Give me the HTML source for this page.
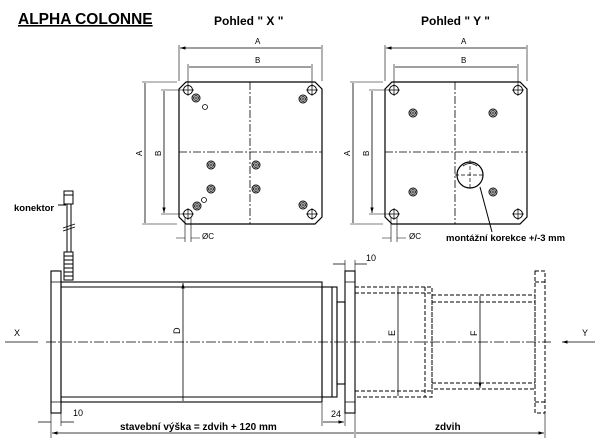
<!DOCTYPE html>
<html><head><meta charset="utf-8"><style>
html,body{margin:0;padding:0;background:#fff;width:600px;height:445px;overflow:hidden}
svg{display:block}
text{font-family:"Liberation Sans",sans-serif;fill:#000}
</style></head><body>
<svg width="600" height="445" viewBox="0 0 600 445" xmlns="http://www.w3.org/2000/svg">
<defs>
<marker id="ar" viewBox="0 0 10 10" refX="10" refY="5" markerWidth="7" markerHeight="7" orient="auto-start-reverse"><path d="M0,2 L10,5 L0,8 z" fill="#000"/></marker>
<g id="hole"><circle r="4.5" fill="none" stroke="#000" stroke-width="1"/><path d="M-6,0H6M0,-6V6" stroke="#000" stroke-width="0.7"/></g>
<g id="scr"><circle r="4" fill="none" stroke="#000" stroke-width="1"/><circle r="2.5" fill="none" stroke="#000" stroke-width="0.8"/><path d="M-2,0H2M0,-2V2" stroke="#000" stroke-width="0.7"/></g>
</defs>
<text x="18" y="24" font-size="15.5" font-weight="bold" text-decoration="underline">ALPHA COLONNE</text>
<text x="214" y="25" font-size="12" font-weight="bold">Pohled " X "</text>
<text x="421" y="25" font-size="12" font-weight="bold">Pohled " Y "</text>

<g stroke="#000" fill="none" stroke-width="1">
<path d="M186,82 H315 L322,89 V217 L315,224 H186 L179,217 V89 Z" stroke-width="1.2"/>
<path d="M250,82V224M179,152H322" stroke-dasharray="8,2,2,2" stroke-width="0.8"/>
<path d="M179,81V45M322,81V45M188,86V64M312,86V64M177,82H142M177,224H142M184,90H161M184,214H161" stroke-width="0.6"/>
<path d="M180,48H321M189,67H311M145,83V223M164,91V213" marker-start="url(#ar)" marker-end="url(#ar)" stroke-width="0.8"/>
<path d="M185,218V242M191,218V242M176,238H185M200,238H191" stroke-width="0.6"/>
<path d="M392,82 H520 L527,89 V217 L520,224 H392 L385,217 V89 Z" stroke-width="1.2"/>
<path d="M455,82V224M385,152H527" stroke-dasharray="8,2,2,2" stroke-width="0.8"/>
<path d="M385,81V45M527,81V45M394,86V64M518,86V64M383,82H350M383,224H350M390,90H369M390,214H369" stroke-width="0.6"/>
<path d="M386,48H526M395,67H517M353,83V223M372,91V213" marker-start="url(#ar)" marker-end="url(#ar)" stroke-width="0.8"/>
<path d="M391,218V242M397,218V242M382,238H391M406,238H397" stroke-width="0.6"/>
<circle cx="470" cy="175" r="13" stroke-width="1.2"/>
<path d="M455,175H485M470,160V190" stroke-dasharray="4,2" stroke-width="0.7"/>
<path d="M463,166 Q470,161 477,166" stroke-width="0.8"/>
<path d="M480,187 L492,232" stroke-width="1"/>
</g>
<g>
<use href="#hole" x="188" y="90"/><use href="#hole" x="312" y="90"/><use href="#hole" x="188" y="214"/><use href="#hole" x="312" y="214"/>
<use href="#scr" x="196" y="98"/><use href="#scr" x="303" y="99"/><use href="#scr" x="197" y="206"/><use href="#scr" x="303" y="205"/>
<use href="#scr" x="211" y="165"/><use href="#scr" x="256" y="165"/><use href="#scr" x="211" y="189"/><use href="#scr" x="256" y="189"/>
<circle cx="205" cy="107" r="2.5" fill="none" stroke="#000" stroke-width="0.8"/>
<circle cx="204" cy="200" r="2.5" fill="none" stroke="#000" stroke-width="0.8"/>
<use href="#hole" x="394" y="90"/><use href="#hole" x="518" y="90"/><use href="#hole" x="394" y="214"/><use href="#hole" x="518" y="214"/>
<use href="#scr" x="413" y="113"/><use href="#scr" x="493" y="113"/><use href="#scr" x="413" y="192"/><use href="#scr" x="493" y="192"/>
</g>
<g font-size="8">
<text x="255" y="44">A</text><text x="255" y="63">B</text>
<text x="461" y="44">A</text><text x="461" y="63">B</text>
<text transform="translate(142,156) rotate(-90)">A</text>
<text transform="translate(161,156) rotate(-90)">B</text>
<text transform="translate(350,156) rotate(-90)">A</text>
<text transform="translate(369,156) rotate(-90)">B</text>
<text x="202" y="239">ØC</text><text x="409" y="239">ØC</text>
</g>
<text x="446" y="241" font-size="9.5" font-weight="bold">montážní korekce +/-3 mm</text>
<text x="14" y="211" font-size="9.5" font-weight="bold">konektor</text>

<g stroke="#000" fill="none" stroke-width="1">
<rect x="64" y="191" width="9" height="13"/>
<path d="M64,195H73M58,205H66"/>
<path d="M67,204V252M71,204V252"/>
<path d="M63,228L75,224M63,231L75,227" stroke-width="0.8"/>
<rect x="64" y="252" width="9" height="28"/>
<path d="M64,256H73M64,260H73M64,264H73M64,268H73M64,272H73M64,276H73"/>
</g>

<g stroke="#000" fill="none" stroke-width="1.1">
<rect x="51" y="271" width="10" height="142"/>
<path d="M51,282H61M51,402H61" stroke-width="0.7"/>
<rect x="61" y="282" width="261" height="120"/>
<path d="M61,287H322M61,397H322"/>
<rect x="322" y="287" width="15" height="110"/>
<path d="M332,287V397"/>
<rect x="337" y="302" width="8" height="82"/>
<rect x="345" y="271" width="10" height="142"/>
<path d="M345,282H355M345,402H355" stroke-width="0.7"/>
<g stroke-dasharray="4,2" stroke-width="1">
<rect x="355" y="287" width="77" height="110"/>
<path d="M355,293H432M355,391H432M425,287V397"/>
<rect x="432" y="295" width="103" height="94"/>
<path d="M432,302H535M432,383H535"/>
<rect x="535" y="271" width="10" height="142"/>
<path d="M535,282H545M535,402H545"/>
</g>
</g>
<g stroke="#000" fill="none" stroke-width="0.8">
<path d="M46,342H551" stroke-dasharray="10,2,2,2"/>
<path d="M5,342H38M595,342H562" marker-end="url(#ar)"/>
<path d="M183,283V401M398,288V396M480,296V388" marker-start="url(#ar)" marker-end="url(#ar)"/>
<path d="M52,433H354M356,433H544" marker-start="url(#ar)" marker-end="url(#ar)"/>
<path d="M51,413V438M355,413V438M545,413V438M322,403V426M345,413V426M345,260V271M355,260V271M61,413V426" stroke-width="0.6"/>
<path d="M38,422H51M74,422H61M333,264H345M367,264H355M323,422H344" marker-end="url(#ar)"/>
</g>
<g font-size="9">
<text x="14" y="336">X</text><text x="582" y="336">Y</text>
<text x="73" y="416">10</text><text x="366" y="261">10</text><text x="331" y="417">24</text>
<text transform="translate(180,334) rotate(-90)">D</text>
<text transform="translate(395,336) rotate(-90)">E</text>
<text transform="translate(477,336) rotate(-90)">F</text>
</g>
<text x="120" y="430" font-size="10" font-weight="bold">stavební výška = zdvih + 120 mm</text>
<text x="435" y="430" font-size="10" font-weight="bold">zdvih</text>
</svg>
</body></html>
